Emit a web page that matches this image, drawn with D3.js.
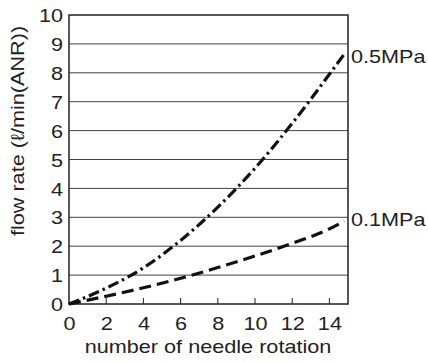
<!DOCTYPE html>
<html><head><meta charset="utf-8">
<script src="https://cdn.jsdelivr.net/npm/d3@7"></script>
<style>body{margin:0;background:#fff}text{font-family:"Liberation Sans",Arial,sans-serif;fill:#222}</style>
</head><body><svg id="c" width="428" height="362"></svg>
<script>
const xTicks = [0,2,4,6,8,10,12,14];
const yTicks = [0,1,2,3,4,5,6,7,8,9,10];
const rot05 = [0,2,4,6,8,10,12,14,14.8];
const flow05 = [0,0.55,1.25,2.2,3.35,4.7,6.25,7.95,8.65];
const rot01 = [0,2,4,6,8,10,12,14,14.8];
const flow01 = [0,0.27,0.56,0.89,1.26,1.66,2.1,2.6,2.87];
const seriesLabels = ["0.5MPa","0.1MPa"];

const FS = 18.5, K = 1.17;
const svg = d3.select("#c");
const L=69, R=348, T=15, B=304;
const x = d3.scaleLinear().domain([0,15]).range([L,R]);
const y = d3.scaleLinear().domain([0,10]).range([B,T]);

function stretch(sel){
  sel.each(function(){
    const w = this.getComputedTextLength();
    d3.select(this).attr("textLength", w*K).attr("lengthAdjust","spacingAndGlyphs");
  });
}

// gridlines
svg.append("g").selectAll("line").data(yTicks.slice(1,-1)).join("line")
  .attr("x1",L).attr("x2",R).attr("y1",d=>y(d)).attr("y2",d=>y(d))
  .attr("stroke","#444").attr("stroke-width",1);

// y axis labels
const ya = svg.append("g").attr("transform",`translate(${L},0)`)
  .call(d3.axisLeft(y).tickValues(yTicks).tickSize(0).tickPadding(6));
ya.select(".domain").remove();
ya.selectAll("text").style("font-size",FS+"px").attr("fill","#222")
  .style("font-family","Liberation Sans, Arial, sans-serif").attr("dy","0.36em").call(stretch);

// x axis
const xa = svg.append("g").attr("transform",`translate(0,${B})`)
  .call(d3.axisBottom(x).tickValues(xTicks).tickSize(0).tickPadding(0));
xa.select(".domain").remove();
xa.selectAll("text").style("font-size",FS+"px").attr("fill","#222")
  .style("font-family","Liberation Sans, Arial, sans-serif").attr("dy",null).attr("y",26).call(stretch);
svg.append("g").selectAll("line").data(xTicks.slice(1)).join("line")
  .attr("x1",d=>x(d)).attr("x2",d=>x(d)).attr("y1",B).attr("y2",B-6)
  .attr("stroke","#222").attr("stroke-width",1);

// frame
svg.append("rect").attr("x",L).attr("y",T).attr("width",R-L).attr("height",B-T)
  .attr("fill","none").attr("stroke","#222").attr("stroke-width",1.5);

const line = d3.line().curve(d3.curveMonotoneX).x(d=>x(d[0])).y(d=>y(d[1]));
svg.append("path").datum(rot05.map((r,i)=>[r,flow05[i]])).attr("d",line)
  .attr("fill","none").attr("stroke","#111").attr("stroke-width",3.2)
  .attr("stroke-dasharray","11,4,2.5,4");
svg.append("path").datum(rot01.map((r,i)=>[r,flow01[i]])).attr("d",line)
  .attr("fill","none").attr("stroke","#111").attr("stroke-width",3.2)
  .attr("stroke-dasharray","12,6");

svg.append("text").attr("x",351).attr("y",63).style("font-size",FS+"px").text(seriesLabels[0]).call(stretch);
svg.append("text").attr("x",351).attr("y",226).style("font-size",FS+"px").text(seriesLabels[1]).call(stretch);

svg.append("text").attr("x",208).attr("y",353).attr("text-anchor","middle").style("font-size",FS+"px")
  .text("number of needle rotation").call(stretch);
svg.append("text").attr("transform","translate(24,131) rotate(-90)").attr("text-anchor","middle").style("font-size",FS+"px")
  .text("flow rate (\u2113/min(ANR))").call(stretch);
</script></body></html>
